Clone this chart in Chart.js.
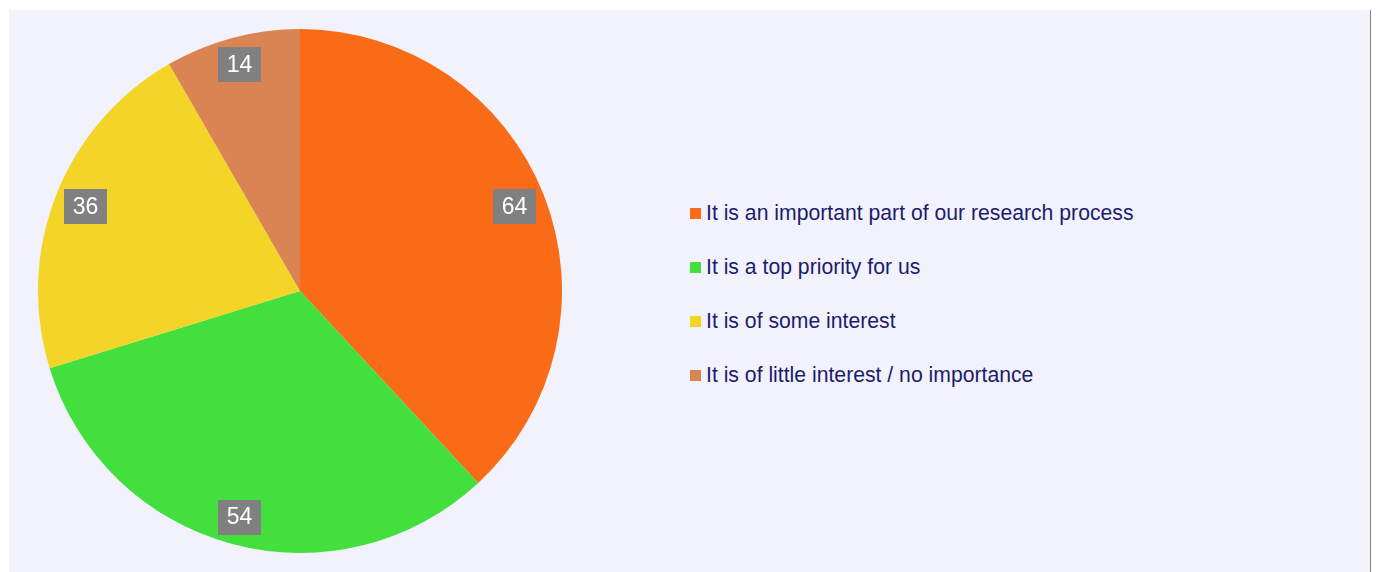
<!DOCTYPE html>
<html>
<head>
<meta charset="utf-8">
<script src="https://cdn.jsdelivr.net/npm/chart.js@4.4.1/dist/chart.umd.min.js"></script>
<style>
  html, body { margin: 0; padding: 0; background: #ffffff; width: 1376px; height: 572px; overflow: hidden; }
  #panel { position: absolute; left: 9px; top: 10px; width: 1361px; height: 562px; background: #f2f2fd; border-right: 1px solid #808080; }
  #pieBox { position: absolute; left: 38px; top: 29px; width: 524px; height: 524px; }
  #legend { position: absolute; left: 690px; top: 0; font-family: "Liberation Sans", Arial, sans-serif; font-size: 21.2px; color: #1c1c6c; }
  .item { position: absolute; left: 0; white-space: nowrap; height: 22px; line-height: 22px; }
  .sw { position: absolute; left: 0; top: 6px; width: 11px; height: 11px; }
  .tx { position: absolute; left: 16px; top: 0; }
</style>
</head>
<body>
<div id="panel"></div>
<div id="pieBox"><canvas id="c"></canvas></div>
<div id="legend"></div>
<script>
const categories = [
  "It is an important part of our research process",
  "It is a top priority for us",
  "It is of some interest",
  "It is of little interest / no importance"
];
const values = [64, 54, 36, 14];
const colors = ["#f96b16", "#43df3d", "#f4d427", "#d98452"];

// HTML legend
const legendTops = [202, 256, 310, 364];
const lg = document.getElementById('legend');
categories.forEach((name, i) => {
  const it = document.createElement('div');
  it.className = 'item';
  it.style.top = legendTops[i] + 'px';
  const sw = document.createElement('div');
  sw.className = 'sw';
  sw.style.background = colors[i];
  const tx = document.createElement('div');
  tx.className = 'tx';
  tx.textContent = name;
  it.appendChild(sw); it.appendChild(tx);
  lg.appendChild(it);
});

const labelPlugin = {
  id: 'valueBoxes',
  afterDatasetsDraw(chart) {
    const ctx = chart.ctx;
    const meta = chart.getDatasetMeta(0);
    ctx.save();
    ctx.font = '23px "Liberation Sans", Arial, sans-serif';
    ctx.textAlign = 'center';
    ctx.textBaseline = 'middle';
    meta.data.forEach((arc, i) => {
      const p = arc.getProps(['x', 'y', 'startAngle', 'endAngle', 'outerRadius'], true);
      const mid = (p.startAngle + p.endAngle) / 2;
      const c = Math.cos(mid), s = Math.sin(mid);
      const txt = String(values[i]);
      const w = Math.round(ctx.measureText(txt).width + 17);
      const h = 35;
      // place box so its outermost corner sits just inside the rim
      const D = p.outerRadius - 5;
      const b = Math.abs(c) * w / 2 + Math.abs(s) * h / 2;
      const k = (w / 2) * (w / 2) + (h / 2) * (h / 2) - D * D;
      const r = -b + Math.sqrt(b * b - k);
      const cx = p.x + c * r;
      const cy = p.y + s * r;
      ctx.fillStyle = '#808080';
      ctx.fillRect(Math.round(cx - w / 2), Math.round(cy - h / 2), w, h);
      ctx.fillStyle = '#ffffff';
      ctx.fillText(txt, cx, cy + 1);
    });
    ctx.restore();
  }
};

new Chart(document.getElementById('c'), {
  type: 'pie',
  data: {
    labels: categories,
    datasets: [{
      data: values,
      backgroundColor: colors,
      borderWidth: 0,
      hoverOffset: 0
    }]
  },
  options: {
    responsive: true,
    maintainAspectRatio: false,
    animation: false,
    layout: { padding: 0 },
    plugins: {
      legend: { display: false },
      tooltip: { enabled: false }
    },
    events: []
  },
  plugins: [labelPlugin]
});
</script>
</body>
</html>
